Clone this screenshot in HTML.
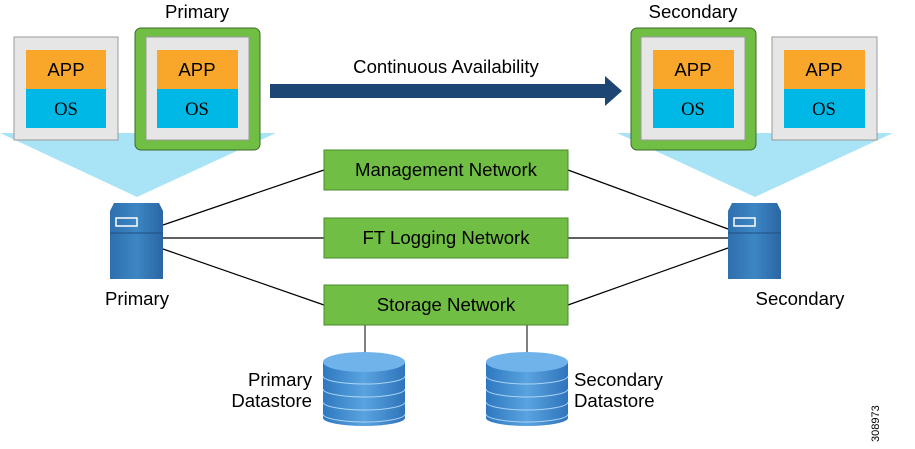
<!DOCTYPE html>
<html><head><meta charset="utf-8"><style>body{margin:0;background:#fff}svg{display:block}</style></head><body>
<svg width="915" height="449" viewBox="0 0 915 449" xmlns="http://www.w3.org/2000/svg" font-family="Liberation Sans, sans-serif">
<defs>
<linearGradient id="srv" x1="0" y1="0" x2="1" y2="0"><stop offset="0" stop-color="#2f6fad"/><stop offset="0.5" stop-color="#3d86c4"/><stop offset="1" stop-color="#2a66a3"/></linearGradient>
<linearGradient id="cyl" x1="0" y1="0" x2="1" y2="0"><stop offset="0" stop-color="#2e78c0"/><stop offset="0.5" stop-color="#5aa3e0"/><stop offset="1" stop-color="#2f74bb"/></linearGradient>
</defs>
<polygon points="0,133 276,133 137,197" fill="#a8e4f5"/>
<polygon points="617,133 893,133 755,197" fill="#a8e4f5"/>
<rect x="14" y="37" width="104" height="103" fill="#e6e6e6" stroke="#999" stroke-width="1"/>
<rect x="26" y="50" width="80" height="39" fill="#f9a72b"/><rect x="26" y="89" width="80" height="39" fill="#00b8e6"/>
<text x="66" y="76" font-size="18.6" text-anchor="middle">APP</text>
<text x="66" y="115" font-size="18.6" text-anchor="middle" font-family="Liberation Serif, serif">OS</text>
<rect x="135" y="28" width="125" height="122" rx="6" fill="#70bf44" stroke="#3d6b2a"/>
<rect x="146" y="37" width="103" height="103" fill="#e6e6e6" stroke="#999"/>
<rect x="157" y="50" width="81" height="39" fill="#f9a72b"/><rect x="157" y="89" width="81" height="39" fill="#00b8e6"/>
<text x="197" y="76" font-size="18.6" text-anchor="middle">APP</text>
<text x="197" y="115" font-size="18.6" text-anchor="middle" font-family="Liberation Serif, serif">OS</text>
<text x="197" y="18" font-size="18.6" text-anchor="middle">Primary</text>
<rect x="631" y="28" width="125" height="122" rx="6" fill="#70bf44" stroke="#3d6b2a"/>
<rect x="641" y="37" width="104" height="103" fill="#e6e6e6" stroke="#999"/>
<rect x="653" y="50" width="81" height="39" fill="#f9a72b"/><rect x="653" y="89" width="81" height="39" fill="#00b8e6"/>
<text x="693" y="76" font-size="18.6" text-anchor="middle">APP</text>
<text x="693" y="115" font-size="18.6" text-anchor="middle" font-family="Liberation Serif, serif">OS</text>
<text x="693" y="18" font-size="18.6" text-anchor="middle">Secondary</text>
<rect x="772" y="37" width="105" height="103" fill="#e6e6e6" stroke="#999"/>
<rect x="784" y="50" width="81" height="39" fill="#f9a72b"/><rect x="784" y="89" width="81" height="39" fill="#00b8e6"/>
<text x="824" y="76" font-size="18.6" text-anchor="middle">APP</text>
<text x="824" y="115" font-size="18.6" text-anchor="middle" font-family="Liberation Serif, serif">OS</text>
<polygon points="270,84 605,84 605,76 622,91 605,106 605,98 270,98" fill="#1e4675"/>
<text x="446" y="73" font-size="18.6" text-anchor="middle">Continuous Availability</text>
<g stroke="#000" stroke-width="1.2">
<line x1="163" y1="225" x2="324" y2="170"/><line x1="163" y1="238" x2="324" y2="238"/><line x1="163" y1="249" x2="324" y2="305"/>
<line x1="568" y1="170" x2="728" y2="229"/><line x1="568" y1="238" x2="728" y2="238"/><line x1="568" y1="305" x2="728" y2="248"/>
</g>
<g stroke="#555" stroke-width="1.5"><line x1="365" y1="325" x2="365" y2="355"/><line x1="527" y1="325" x2="527" y2="355"/></g>
<g fill="#70bf44" stroke="#4a8a2e">
<rect x="324" y="150" width="244" height="40"/><rect x="324" y="218" width="244" height="40"/><rect x="324" y="285" width="244" height="40"/>
</g>
<g font-size="18.6" text-anchor="middle">
<text x="446" y="176">Management Network</text><text x="446" y="244">FT Logging Network</text><text x="446" y="311">Storage Network</text>
</g>
<g>
<polygon points="114,203 159,203 163,211 163,279 110,279 110,211" fill="url(#srv)"/>
<line x1="110" y1="233" x2="163" y2="233" stroke="#1f4f80"/>
<rect x="116" y="218" width="21" height="8" fill="none" stroke="#fff" stroke-width="1.5"/>
<polygon points="732,203 777,203 781,211 781,279 728,279 728,211" fill="url(#srv)"/>
<line x1="728" y1="233" x2="781" y2="233" stroke="#1f4f80"/>
<rect x="734" y="218" width="21" height="8" fill="none" stroke="#fff" stroke-width="1.5"/>
</g>
<text x="137" y="305" font-size="18.6" text-anchor="middle">Primary</text>
<text x="800" y="305" font-size="18.6" text-anchor="middle">Secondary</text>
<g>
<rect x="323" y="362" width="82" height="56" fill="url(#cyl)"/>
<ellipse cx="364" cy="418" rx="41" ry="8" fill="url(#cyl)"/>
<g fill="none" stroke="#a8d4f5" stroke-width="1"><path d="M323,376 a41,8 0 0 0 82,0"/><path d="M323,389 a41,8 0 0 0 82,0"/><path d="M323,402 a41,8 0 0 0 82,0"/><path d="M323,414 a41,8 0 0 0 82,0"/></g>
<ellipse cx="364" cy="362" rx="41" ry="10" fill="#6fb3ea"/>
<rect x="486" y="362" width="82" height="56" fill="url(#cyl)"/>
<ellipse cx="527" cy="418" rx="41" ry="8" fill="url(#cyl)"/>
<g fill="none" stroke="#a8d4f5" stroke-width="1"><path d="M486,376 a41,8 0 0 0 82,0"/><path d="M486,389 a41,8 0 0 0 82,0"/><path d="M486,402 a41,8 0 0 0 82,0"/><path d="M486,414 a41,8 0 0 0 82,0"/></g>
<ellipse cx="527" cy="362" rx="41" ry="10" fill="#6fb3ea"/>
</g>
<g font-size="18.6">
<text x="312" y="386" text-anchor="end">Primary</text><text x="312" y="407" text-anchor="end">Datastore</text>
<text x="574" y="386">Secondary</text><text x="574" y="407">Datastore</text>
</g>
<text transform="translate(879,442) rotate(-90)" font-size="11">308973</text>
</svg>
</body></html>
